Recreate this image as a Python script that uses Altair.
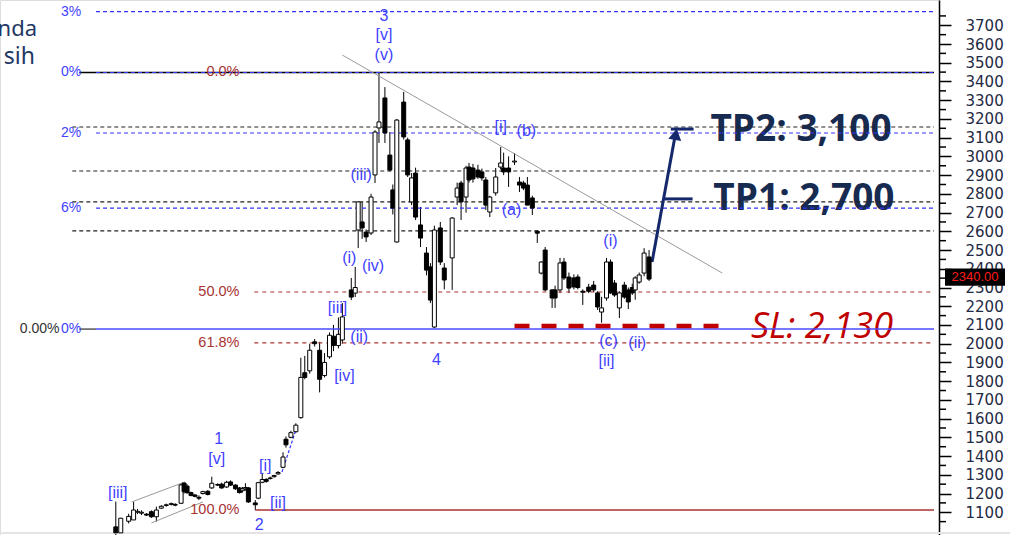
import altair as alt
import pandas as pd

# ---------------- candles (bar position, OHLC) ----------------
cx = [112,117,125,130,134,138,143,148,153,158,163,168,172,178,181,184,188,192,196,200,
      205,209,215,219,224,228,233,237,240,243,246,253,256,260,264,268,272,276,281,284,
      289,294,299,303,308,313,318,323,328,332,337,341,350,354,357,361,365,370,374,378,
      384,389,392,396,403,407,411,415,420,426,430,434,440,444,452,457,461,466,469,473,
      478,482,486,490,496,501,504,509,515,520,524,528,533,538,542,546,553,556,561,565,
      570,575,579,584,590,595,599,603,608,612,616,621,626,630,634,637,641,646,651]
c_open = [1022,990,1052,1059,1100,1095,1090,1103,1076,1122,1136,1142,1142,1148,1256,1240,1205,1192,1180,1200,
          1212,1230,1248,1250,1235,1262,1245,1230,1215,1225,1230,1150,1175,1260,1275,1280,1290,1305,1340,1490,
          1500,1530,1605,1845,1855,2010,1965,1830,1930,2040,1990,2020,2287,2270,2607,2650,2596,2591,2901,3152,
          3312,3007,2821,2543,3290,3088,2757,2911,2634,2484,2410,2089,2618,2404,2458,2783,2858,2783,2943,2938,
          2927,2917,2874,2703,2805,2943,2938,2938,2970,2863,2858,2847,2778,2600,2377,2500,2287,2287,2287,2436,
          2356,2351,2356,2280,2302,2313,2271,2169,2244,2436,2324,2191,2313,2287,2300,2287,2329,2377,2463]
c_high = [1157,1070,1092,1157,1118,1110,1095,1110,1130,1138,1146,1152,1148,1255,1262,1250,1210,1198,1190,1215,
          1218,1290,1255,1258,1268,1270,1250,1235,1235,1255,1235,1165,1262,1310,1282,1290,1300,1320,1420,1505,
          1535,1575,1925,1935,2000,2025,2010,1950,2060,2100,2140,2217,2351,2410,2760,2757,2610,2800,3140,3450,
          3370,3130,2850,3200,3344,3100,2911,2940,2730,2516,2430,2630,2650,2430,2676,2860,2870,2950,2965,2960,
          2955,2935,2890,2790,2938,3050,3020,3000,3018,2890,2870,2890,2790,2607,2440,2516,2290,2310,2458,2458,
          2380,2370,2370,2290,2320,2335,2280,2250,2458,2450,2340,2280,2330,2300,2320,2360,2380,2510,2500]
c_low = [975,985,1040,1059,1090,1085,1080,1070,1050,1118,1130,1136,1132,1145,1200,1198,1185,1180,1165,1195,
         1190,1225,1240,1225,1230,1240,1220,1200,1205,1215,1150,1111,1170,1255,1258,1275,1285,1300,1335,1445,
         1495,1525,1600,1810,1840,1985,1740,1820,1920,1960,1975,2000,2233,2249,2511,2560,2543,2580,2858,3072,
         3072,2920,2690,2540,3090,2890,2740,2660,2516,2365,2217,2084,2420,2290,2287,2740,2660,2700,2860,2860,
         2880,2870,2714,2676,2790,2930,2900,2837,2954,2810,2820,2740,2687,2538,2370,2280,2191,2191,2270,2340,
         2270,2290,2290,2207,2270,2275,2180,2112,2230,2265,2250,2137,2240,2185,2260,2235,2320,2360,2335]
c_close = [990,1068,1078,1112,1105,1100,1085,1076,1112,1132,1140,1146,1138,1246,1210,1205,1190,1185,1175,1210,
           1195,1255,1245,1230,1260,1245,1225,1205,1225,1232,1155,1140,1258,1275,1265,1283,1296,1312,1395,1460,
           1525,1565,1820,1820,1965,2000,1810,1900,2045,1990,2050,2143,2249,2300,2757,2618,2570,2783,3130,3184,
           3125,2927,2724,3194,3104,2901,2885,2676,2564,2393,2233,2607,2436,2340,2671,2831,2757,2938,2874,2880,
           2890,2885,2740,2783,2890,2965,2917,2917,2975,2847,2831,2740,2724,2590,2436,2287,2244,2244,2431,2351,
           2297,2303,2300,2275,2280,2287,2196,2191,2436,2271,2260,2271,2249,2223,2271,2351,2367,2484,2345]

# ---------------- horizontal levels ----------------
black_dash_price = [3157, 2922, 2757, 2602]
blue_dash_price = [3773, 3448, 3125, 2724]
red_dash_price = [2276, 2004]
black_solid_price = [3448]
blue_solid_price = [2078]
red_solid_price = [1112]

# ---------------- labels ----------------
wave_text = ["3", "[v]", "(v)", "[i]", "(b)", "(iii)", "(a)", "(i)", "(i)", "(iv)", "[iii]", "(ii)",
             "4", "[iv]", "(c)", "[ii]", "(ii)", "1", "[v]", "[i]", "[iii]", "[ii]", "2"]
wave_x = [383, 383, 383, 501, 527, 360, 512, 612, 348, 372, 336, 358,
          436, 343, 610, 608, 639, 216, 214, 263, 114, 276, 257]
wave_price = [3750, 3648, 3541, 3157, 3136, 2901, 2714, 2548, 2458, 2415, 2191, 2036,
              1913, 1828, 2014, 1908, 2004, 1491, 1384, 1347, 1203, 1150, 1032]

fib_blue_text = ["3%", "0%", "2%", "6%", "0%"]
fib_blue_price = [3773, 3448, 3125, 2724, 2078]
fib_red_text = ["0.0%", "50.0%", "61.8%", "100.0%"]
fib_red_price = [3448, 2276, 2004, 1112]

minor_ticks = list(range(1050, 3800, 100))
axis_values = list(range(1100, 3800, 100))

W, H = 939, 535
xs = alt.Scale(domain=[0, 939], nice=False, zero=False)
ys = alt.Scale(domain=[978.6, 3835], nice=False, zero=False)
BLUE = "#3f3fff"
RED = "#a83232"
NAVY = "#172a4f"

yaxis = alt.Axis(orient="right", values=axis_values, format="d", tickSize=12, tickColor="black",
                 tickWidth=1.5, domainColor="black", domainWidth=1.5, labelFont="DejaVu Sans",
                 labelFontSize=15, labelColor="#1f2a44", labelPadding=14, grid=False, title=None,
                 labelFlush=False, labelOverlap=False)


def X(f="x"):
    return alt.X(f"{f}:Q", scale=xs, axis=None)


def Y(f="price"):
    return alt.Y(f"{f}:Q", scale=ys, axis=yaxis, title=None)


candles = pd.DataFrame({"x": cx, "open": c_open, "high": c_high, "low": c_low, "close": c_close})

wicks = alt.Chart(candles).mark_rule(color="black", strokeWidth=1).encode(
    x=X(), y=Y("low"), y2="high:Q")
bodies = alt.Chart(candles).mark_bar(size=4, stroke="black", strokeWidth=1).encode(
    x=X(), y=Y("open"), y2="close:Q",
    fill=alt.condition("datum.close >= datum.open", alt.value("white"), alt.value("black")))


def hlines(prices, start, color, dash=None, width=1.0):
    df = pd.DataFrame({"price": prices, "start": start, "end": 939})
    kw = dict(color=color, strokeWidth=width)
    if dash:
        kw["strokeDash"] = dash
    return alt.Chart(df).mark_rule(**kw).encode(x=X("start"), x2="end:Q", y=Y())


lines = [
    hlines(black_solid_price, 75, "black", None, 1.5),
    hlines(black_dash_price, 68, "#222222", [4, 3], 1.2),
    hlines(blue_dash_price, 92, "#3333ff", [4, 3], 1.2),
    hlines(red_dash_price, 252, RED, [4, 4], 1.2),
    hlines(blue_solid_price, 92, "#4a4aff", None, 1.5),
    hlines(red_solid_price, 253, RED, None, 1.5),
]
gray_stub = alt.Chart(pd.DataFrame({"price": blue_solid_price, "start": [75], "end": [92]})).mark_rule(
    color="#555555", strokeWidth=1.5).encode(x=X("start"), x2="end:Q", y=Y())

# trend / channel lines
seg = pd.DataFrame({
    "x1": [341, 128, 148, 280],
    "p1": [3541, 1155, 1043, 1315],
    "x2": [725, 182, 200, 295],
    "p2": [2377, 1262, 1155, 1555],
    "kind": ["trend", "chan", "chan", "blue"],
})
trend = alt.Chart(seg).transform_filter("datum.kind != 'blue'").mark_rule(
    color="#9a9a9a", strokeWidth=1).encode(x=X("x1"), y=Y("p1"), x2="x2:Q", y2="p2:Q")
blue_seg = alt.Chart(seg).transform_filter("datum.kind == 'blue'").mark_rule(
    color="#3333ff", strokeWidth=1.2, strokeDash=[3, 2]).encode(x=X("x1"), y=Y("p1"), x2="x2:Q", y2="p2:Q")

# SL dashed line
sl_line = alt.Chart(pd.DataFrame({"price": [2095], "start": [515], "end": [723]})).mark_rule(
    color="#c00000", strokeWidth=4.5, strokeDash=[15, 12]).encode(x=X("start"), x2="end:Q", y=Y())

# arrow
arrow = alt.Chart(pd.DataFrame({"x1": [654], "p1": [2436], "x2": [678], "p2": [3130]})).mark_rule(
    color="#14286b", strokeWidth=3).encode(x=X("x1"), y=Y("p1"), x2="x2:Q", y2="p2:Q")
arrow_head = alt.Chart(pd.DataFrame({"x": [678], "price": [3118]})).mark_point(
    shape="triangle-up", filled=True, size=170, angle=10.6, color="#14286b", opacity=1).encode(x=X(), y=Y())
tp_ticks = alt.Chart(pd.DataFrame({"price": [3146, 2773], "start": [673, 667], "end": [696, 695]})).mark_rule(
    color="#14286b", strokeWidth=3).encode(x=X("start"), x2="end:Q", y=Y())

# big annotation texts
tp_df = pd.DataFrame({"x": [713, 716], "price": [3141, 2773], "t": ["TP2: 3,100", "TP1: 2,700"]})
tp_text = alt.Chart(tp_df).mark_text(align="left", baseline="middle", font="Open Sans", fontSize=37,
                                     fontWeight="bold", color=NAVY).encode(x=X(), y=Y(), text="t:N")
sl_text = alt.Chart(pd.DataFrame({"x": [754], "price": [2089], "t": ["SL: 2,130"]})).mark_text(
    align="left", baseline="middle", font="Open Sans", fontSize=36, fontStyle="italic",
    color="#c00000").encode(x=X(), y=Y(), text="t:N")

# wave labels
wave_df = pd.DataFrame({"x": wave_x, "price": wave_price, "t": wave_text})
wave = alt.Chart(wave_df).mark_text(align="center", baseline="middle", font="Liberation Sans",
                                    fontSize=16, color=BLUE).encode(x=X(), y=Y(), text="t:N")

fibb = alt.Chart(pd.DataFrame({"x": 77, "price": fib_blue_price, "t": fib_blue_text})).mark_text(
    align="right", baseline="middle", font="Liberation Sans", fontSize=14, color=BLUE).encode(
    x=X(), y=Y(), text="t:N")
fibr = alt.Chart(pd.DataFrame({"x": 237, "price": fib_red_price, "t": fib_red_text})).mark_text(
    align="right", baseline="middle", font="Liberation Sans", fontSize=14.5, color=RED).encode(
    x=X(), y=Y(), text="t:N")
fibk = alt.Chart(pd.DataFrame({"x": [15], "price": [2078], "t": ["0.00%"]})).mark_text(
    align="left", baseline="middle", font="Liberation Sans", fontSize=14, color="#333333").encode(
    x=X(), y=Y(), text="t:N")

# minor ticks on the price axis
minor = alt.Chart(pd.DataFrame({"price": minor_ticks})).mark_rule(color="black", strokeWidth=1.5).encode(
    x=alt.value(939), x2=alt.value(946), y=Y())

# last price tag
last_price = [2340]
tag_rect = alt.Chart(pd.DataFrame({"price": last_price})).mark_rect(color="black").transform_calculate(
    lo="datum.price - 30", hi="datum.price + 62").encode(
    x=alt.value(945), x2=alt.value(1005), y=Y("lo"), y2="hi:Q")
tag_text = alt.Chart(pd.DataFrame({"price": last_price, "t": ["2340.00"]})).mark_text(
    align="center", baseline="middle", dy=-3, font="Liberation Sans", fontSize=13, color="#ff1a1a").encode(
    x=alt.value(975), y=Y(), text="t:N")

# slide text fragments at top-left
slide_a = alt.Chart(pd.DataFrame({"t": ["nda"]})).mark_text(
    align="right", baseline="alphabetic", font="Noto Sans", fontSize=22, color="#1f3864").encode(
    x=alt.value(37), y=alt.value(36), text="t:N")
slide_b = alt.Chart(pd.DataFrame({"t": ["sih"]})).mark_text(
    align="right", baseline="alphabetic", font="Noto Sans", fontSize=23, color="#1f3864").encode(
    x=alt.value(35), y=alt.value(64), text="t:N")

bottom = alt.Chart(pd.DataFrame({"a": [0]})).mark_rule(color="#e4e4e4", strokeWidth=2).encode(
    x=alt.value(0), x2=alt.value(1010), y=alt.value(533))

chart = alt.layer(
    wicks, bottom, tp_text, sl_text, *lines, gray_stub, trend, blue_seg, sl_line,
    arrow, arrow_head, tp_ticks, bodies, wave, fibb, fibr, fibk, minor, tag_rect, tag_text,
    slide_a, slide_b
).properties(
    width=W, height=H, padding={"left": 0, "top": 0, "right": 71, "bottom": 0}, autosize="none"
).configure_view(stroke=None).configure(background="white")

chart.save("out.html", embed_options={"renderer": "svg", "actions": False})
